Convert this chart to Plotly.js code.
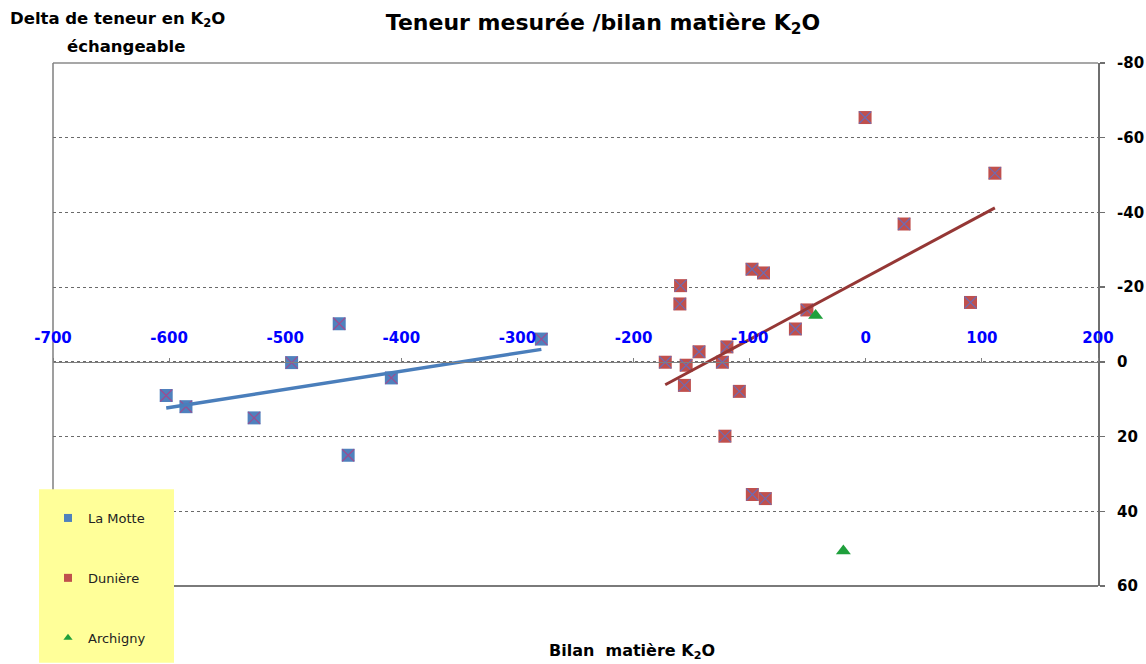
<!DOCTYPE html>
<html>
<head>
<meta charset="utf-8">
<script src="https://cdn.plot.ly/plotly-3.0.1.min.js"></script>
<style>
  html, body { margin: 0; padding: 0; background: #ffffff; }
  #chart { width: 1146px; height: 664px; }
</style>
</head>
<body>
<div id="chart"></div>
<script>
// ---- Data ----
const seriesNames = ['La Motte', 'Dunière', 'Archigny'];

const laMotteX = [-602.5, -585.5, -526.8, -494.5, -453.5, -445.8, -408.6, -279.4];
const laMotteY = [9.0, 12.0, 15.0, 0.2, -10.2, 25.0, 4.3, -6.1];

const duniereX = [-0.6, 111.2, 33.0, -98.0, -88.1, -159.5, -160.1, 90.2, -50.7, -60.6,
                  -119.6, -143.6, -172.7, -123.5, -154.7, -156.2, -108.9, -121.3, -97.7, -86.5];
const duniereY = [-65.4, -50.5, -36.9, -24.8, -23.8, -20.4, -15.5, -15.9, -13.9, -8.8,
                  -4.0, -2.7, 0.1, 0.1, 0.9, 6.3, 7.9, 19.9, 35.5, 36.6];

const archignyX = [-43.2, -19.3];
const archignyY = [-12.4, 50.6];

const xTickVals = [-700, -600, -500, -400, -300, -200, -100, 0, 100, 200];
const xTickText = ['-700', '-600', '-500', '-400', '-300', '-200', '-100', '0', '100', '200'];
const yTickVals = [-80, -60, -40, -20, 0, 20, 40, 60];
const yTickText = ['-80', '-60', '-40', '-20', '0', '20', '40', '60'];

// ---- Linear trend (least squares) computed from the series ----
function trend(xs, ys) {
  const n = xs.length;
  const mx = xs.reduce((a, b) => a + b, 0) / n;
  const my = ys.reduce((a, b) => a + b, 0) / n;
  let sxy = 0, sxx = 0;
  for (let i = 0; i < n; i++) { sxy += (xs[i] - mx) * (ys[i] - my); sxx += (xs[i] - mx) ** 2; }
  const b = sxy / sxx, a = my - b * mx;
  const x0 = Math.min(...xs), x1 = Math.max(...xs);
  return { x: [x0, x1], y: [a + b * x0, a + b * x1] };
}
const tMotte = trend(laMotteX, laMotteY);
const tDun = trend(duniereX, duniereY);

const blue = '#4F81BD', red = '#C0504D', green = '#1FA03C';
const FONT = 'DejaVu Sans, Liberation Sans, Arial, sans-serif';

const data = [
  // La Motte squares + x overlay
  { type: 'scatter', mode: 'markers', x: laMotteX, y: laMotteY, showlegend: false, hoverinfo: 'skip',
    marker: { symbol: 'square', size: 13, color: blue, line: { width: 0 } } },
  { type: 'scatter', mode: 'markers', x: laMotteX, y: laMotteY, showlegend: false, hoverinfo: 'skip',
    marker: { symbol: 'x-thin-open', size: 12, color: 'rgba(165,70,140,0.9)', line: { width: 1.2, color: 'rgba(165,70,140,0.9)' } } },
  // Dunière squares + x overlay
  { type: 'scatter', mode: 'markers', x: duniereX, y: duniereY, showlegend: false, hoverinfo: 'skip',
    marker: { symbol: 'square', size: 13, color: red, line: { width: 0 } } },
  { type: 'scatter', mode: 'markers', x: duniereX, y: duniereY, showlegend: false, hoverinfo: 'skip',
    marker: { symbol: 'x-thin-open', size: 12, color: 'rgba(100,110,190,0.9)', line: { width: 1.2, color: 'rgba(100,110,190,0.9)' } } },
  // Archigny triangles
  { type: 'scatter', mode: 'markers', x: archignyX, y: archignyY, showlegend: false, hoverinfo: 'skip',
    marker: { symbol: 'triangle-up', size: 13, color: green, line: { width: 0 } } },
  // Trend lines
  { type: 'scatter', mode: 'lines', x: tMotte.x, y: tMotte.y, showlegend: false, hoverinfo: 'skip',
    line: { color: '#4A7EBB', width: 3.5 } },
  { type: 'scatter', mode: 'lines', x: tDun.x, y: tDun.y, showlegend: false, hoverinfo: 'skip',
    line: { color: '#953735', width: 3 } },
  // Legend entries
  { type: 'scatter', mode: 'markers', x: [null], y: [null], name: seriesNames[0], legendgroup: 'a',
    marker: { symbol: 'square', size: 8, color: blue } },
  { type: 'scatter', mode: 'markers', x: [null], y: [null], name: seriesNames[1], legendgroup: 'b',
    marker: { symbol: 'square', size: 8, color: red } },
  { type: 'scatter', mode: 'markers', x: [null], y: [null], name: seriesNames[2], legendgroup: 'c',
    marker: { symbol: 'triangle-up', size: 8, color: green } }
];

const L = 53, R = 48, T = 63, B = 77;
const W = 1146, H = 664;
const pw = W - L - R, ph = H - T - B;
const px2x = p => (p - L) / pw;
const py2y = p => (H - B - p) / ph;

const layout = {
  width: W, height: H,
  margin: { l: L, r: R, t: T, b: B, pad: 0 },
  paper_bgcolor: '#ffffff', plot_bgcolor: '#ffffff',
  font: { family: FONT, color: '#000000' },
  title: { text: 'Teneur mesurée /bilan matière K<sub>2</sub>O', xref: 'container', yref: 'container',
           x: 603 / W, y: 1 - 22 / H, xanchor: 'center', yanchor: 'middle',
           font: { family: FONT, size: 22, weight: 'bold', color: '#000000' } },
  xaxis: {
    range: [-700, 200], tickvals: xTickVals, ticktext: xTickText,
    side: 'top', anchor: 'free', position: 60 / 140,
    showgrid: false, zeroline: false,
    showline: true, linecolor: '#7f7f7f', linewidth: 1.5,
    ticks: 'outside', ticklen: 4, tickcolor: '#7f7f7f', tickwidth: 1,
    ticklabelstandoff: 9,
    tickfont: { family: FONT, size: 15, weight: 'bold', color: '#0000FF' }
  },
  yaxis: {
    range: [60, -80], tickvals: yTickVals, ticktext: yTickText,
    side: 'right',
    showgrid: true, gridcolor: '#6a6a6a', griddash: 'dot', gridwidth: 1,
    zeroline: false,
    showline: true, linecolor: '#6f6f6f', linewidth: 2,
    ticks: 'outside', ticklen: 5, tickcolor: '#6f6f6f', tickwidth: 1.5,
    ticklabelstandoff: 9,
    tickfont: { family: FONT, size: 15, weight: 'bold', color: '#000000' }
  },
  shapes: [
    // plot area border (top, left, bottom)
    { type: 'line', xref: 'paper', yref: 'paper', x0: 0, x1: 1, y0: 1, y1: 1, line: { color: '#8a8a8a', width: 1.5 }, layer: 'below' },
    { type: 'line', xref: 'paper', yref: 'paper', x0: 0, x1: 0, y0: 0, y1: 1, line: { color: '#7f7f7f', width: 1.5 }, layer: 'below' },
    { type: 'line', xref: 'paper', yref: 'paper', x0: 0, x1: 1, y0: 0, y1: 0, line: { color: '#7a7a7a', width: 2 }, layer: 'below' },
    // legend background box
    { type: 'rect', xref: 'paper', yref: 'paper', x0: px2x(39), x1: px2x(174), y0: py2y(664), y1: py2y(490),
      fillcolor: '#FFFF99', line: { width: 0 }, layer: 'above' }
  ],
  annotations: [
    { text: 'Delta de teneur en K<sub>2</sub>O', xref: 'paper', yref: 'paper', x: px2x(117), y: py2y(19),
      xanchor: 'center', yanchor: 'middle', showarrow: false,
      font: { family: FONT, size: 16.5, weight: 'bold', color: '#000000' } },
    { text: 'échangeable', xref: 'paper', yref: 'paper', x: px2x(126), y: py2y(46),
      xanchor: 'center', yanchor: 'middle', showarrow: false,
      font: { family: FONT, size: 16.5, weight: 'bold', color: '#000000' } },
    { text: 'Bilan  matière K<sub>2</sub>O', xref: 'paper', yref: 'paper', x: px2x(632), y: py2y(653),
      xanchor: 'center', yanchor: 'middle', showarrow: false,
      font: { family: FONT, size: 16, weight: 'bold', color: '#000000' } }
  ],
  legend: {
    x: px2x(48), y: py2y(503), xanchor: 'left', yanchor: 'top',
    bgcolor: 'rgba(0,0,0,0)', borderwidth: 0,
    traceorder: 'grouped', tracegroupgap: 40,
    font: { family: FONT, size: 13, color: '#222222' }
  },
  showlegend: true
};

Plotly.newPlot('chart', data, layout, { displayModeBar: false, staticPlot: true });
</script>
</body>
</html>
